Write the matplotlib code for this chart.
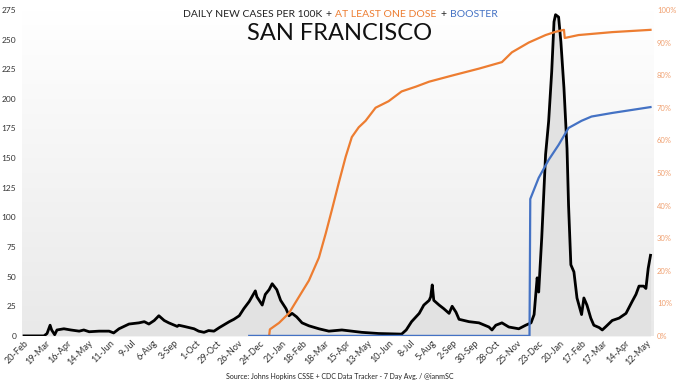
import numpy as np
import pandas as pd
import matplotlib
matplotlib.use("Agg")
import matplotlib.pyplot as plt
import matplotlib.dates as mdates
from matplotlib.colors import LinearSegmentedColormap
from matplotlib.ticker import FuncFormatter

plt.rcParams['font.family'] = ['Lato', 'DejaVu Sans']

START = pd.Timestamp("2020-02-20")

# daily new cases per 100k (7 day avg); days since 20-Feb-2020
case_day = [0, 26, 30, 34, 36, 40, 43, 52, 61, 72, 78, 85, 98, 111, 117, 124, 137, 150,
            157, 163, 170, 176, 183, 189, 200, 202, 209, 222, 228, 235, 241, 248, 255,
            268, 274, 281, 287, 294, 302, 304, 311, 315, 320, 324, 330, 335, 342, 346,
            350, 356, 363, 372, 385, 398, 415, 441, 463, 493, 499, 506, 516, 522, 529,
            531, 533, 535, 542, 548, 555, 559, 564, 568, 581, 594, 607, 611, 616, 624,
            633, 646, 655, 662, 666, 670, 672, 676, 681, 685, 689, 692, 694, 698, 701,
            705, 709, 711, 714, 718, 722, 728, 731, 735, 740, 744, 751, 755, 760, 768,
            777, 786, 794, 799, 803, 809, 812, 815, 818]
case_val = [0, 0, 2, 9, 5, 1, 5, 6, 5, 4, 5, 3.5, 4, 4, 2.5, 6, 10, 11,
            12, 10, 13, 17, 13, 11, 8, 9, 8, 6, 4, 3, 4.5, 4, 7,
            12, 14, 17, 23, 29, 38, 33, 26, 35, 39, 44, 39, 30, 23, 17,
            19, 16, 11, 8.5, 6, 4, 5, 3, 2, 1.5, 5, 12, 19, 26, 30,
            33, 43, 30, 26, 23, 19, 25, 20, 14, 12, 11, 7.5, 5, 9, 11,
            7.5, 6, 9, 11, 18, 49, 37, 83, 153, 181, 223, 265, 271, 269, 248,
            209, 158, 110, 60, 54, 32, 18, 32, 26, 15, 9, 7, 5, 8, 13,
            15, 19, 29, 35, 42, 42, 40, 57, 68]

# at least one dose (%)
dose_day = [320, 321, 333, 346, 359, 372, 385, 394, 402, 411, 420, 428, 437, 446, 459,
            476, 493, 512, 529, 561, 594, 624, 637, 659, 681, 694, 705, 706, 724, 768, 818]
dose_pct = [0, 2, 4, 7, 12, 17, 24, 31.5, 38.7, 47, 55, 61, 64, 66, 70,
            72, 75, 76.5, 78, 80, 82, 84, 87, 90, 92.3, 93.3, 93.9, 91.4, 92.3, 93.2, 93.9]

# booster (%)
boost_day = [294, 660, 661, 672, 685, 698, 711, 728, 741, 768, 818]
boost_pct = [0, 0, 42, 48.5, 54, 58.6, 63.8, 66, 67.3, 68.4, 70.2]

tick_dates = pd.date_range("2020-02-20", periods=30, freq="28D")

ORANGE = "#ED7D31"
BLUE = "#4472C4"


def to_dates(days):
    return START + pd.to_timedelta(days, unit="D")


fig = plt.figure(figsize=(6.8, 3.83), dpi=100)
ax = fig.add_axes([0.032, 0.123, 0.928, 0.851])

cd = to_dates(case_day)
ax.fill_between(cd, case_val, 0, color="#e2e2e2", lw=0, zorder=1)
ax.plot(cd, case_val, color="black", lw=2.0, zorder=3)

x0 = START - pd.Timedelta(days=3)
x1 = START + pd.Timedelta(days=821)

# gradient background
cmap = LinearSegmentedColormap.from_list("bg", ["#e9e9e9", "#ffffff"])
grad = np.linspace(0, 1, 256).reshape(-1, 1)
ax.imshow(grad, extent=[0, 1, 0, 1], transform=ax.transAxes, aspect="auto",
          cmap=cmap, origin="lower", zorder=0)
ax.set_xlim(x0, x1)
ax.set_ylim(0, 275)

ax.set_yticks(np.arange(0, 276, 25))
ax.tick_params(axis="y", length=0, pad=4, labelsize=6, labelcolor="#333333")
ax.set_xticks(tick_dates)
ax.xaxis.set_major_formatter(mdates.DateFormatter("%-d-%b"))
ax.tick_params(axis="x", length=0, pad=2, labelsize=6.5, labelcolor="#333333")
for lab in ax.get_xticklabels():
    lab.set_rotation(45)
    lab.set_ha("right")
    lab.set_rotation_mode("anchor")
for s in ax.spines.values():
    s.set_visible(False)

ax2 = ax.twinx()
ax2.plot(to_dates(dose_day), dose_pct, color=ORANGE, lw=1.6, zorder=4)
ax2.plot(to_dates(boost_day), boost_pct, color=BLUE, lw=1.6, zorder=4)
ax2.set_ylim(0, 100)
ax2.set_yticks(np.arange(0, 101, 10))
ax2.yaxis.set_major_formatter(FuncFormatter(lambda v, p: "%d%%" % v))
ax2.tick_params(axis="y", length=0, pad=3, labelsize=5.5, labelcolor="#F0A070")
for s in ax2.spines.values():
    s.set_visible(False)
ax2.set_xlim(x0, x1)

# multicolour headline, pieces laid out one after another with a fixed gap
parts = [("DAILY NEW CASES PER 100K", "#222222"), ("+", "#222222"),
         ("AT LEAST ONE DOSE", ORANGE), ("+", "#222222"), ("BOOSTER", BLUE)]
gap = 3.6
fig.canvas.draw()
r = fig.canvas.get_renderer()
texts = [fig.text(0, 0.963, s, color=c, fontsize=7.5, va="center") for s, c in parts]
widths = [t.get_window_extent(r).width for t in texts]
x = (680 - sum(widths) - gap * (len(widths) - 1)) / 2
for t, w in zip(texts, widths):
    t.set_x(x / 680)
    x += w + gap

fig.text(0.5, 0.912, "SAN FRANCISCO", fontsize=17, ha="center", va="center", color="#111111")
fig.text(0.5, 0.018, "Source: Johns Hopkins CSSE + CDC Data Tracker - 7 Day Avg. / @ianmSC",
         fontsize=5, ha="center", va="center", color="#222222")

fig.savefig("out.png", dpi=100, facecolor="white")
